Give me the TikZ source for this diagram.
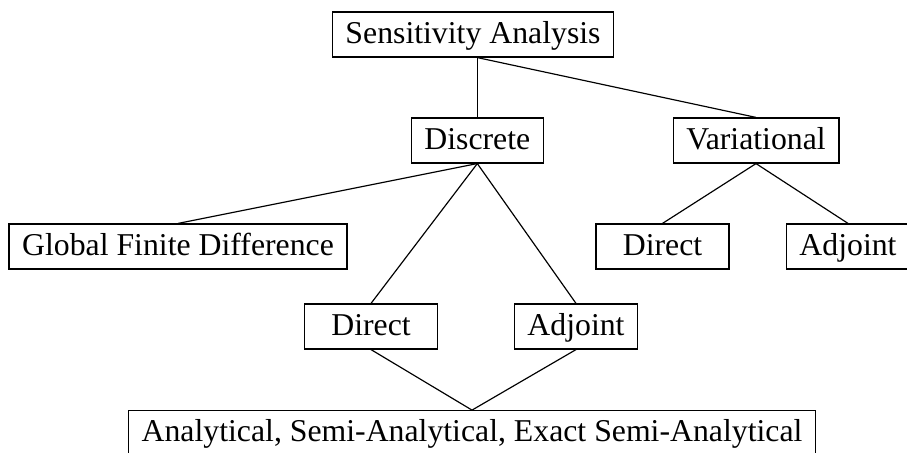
\documentclass[tikz,border=0pt]{standalone}
\usepackage{fontspec}
\setmainfont{Liberation Serif}
\begin{document}
\begin{tikzpicture}[x=0.34pt,y=-0.34pt,
  box/.style={draw,rectangle,line width=0.4pt,inner xsep=4.5pt,inner ysep=3.15pt,
    text height=7.4pt,text depth=1.6pt,font=\fontsize{10.8}{13}\selectfont},
  dirbox/.style={box,minimum width=45.2pt},
  conn/.style={draw,line width=0.4pt}]
\clip (0,0) rectangle (907,453);
\useasboundingbox (0,0) rectangle (907,453);
\node[box] (sa) at (473,34.5) {Sensitivity Analysis};
\node[box] (disc) at (477.3,140.5) {Discrete};
\node[box] (var) at (756,140.5) {Variational};
\node[box] (gfd) at (178,246.5) {Global Finite Difference};
\node[dirbox] (vdir) at (662.5,246.5) {Direct};
\node[box] (vadj) at (848,246.5) {Adjoint};
\node[dirbox] (ddir) at (371,326.5) {Direct};
\node[box] (dadj) at (576,326.5) {Adjoint};
\node[box] (bot) at (472,433.2) {Analytical, Semi-Analytical, Exact Semi-Analytical};
\coordinate (root) at (disc.north |- sa.south);
\path[conn] (root) -- (disc.north);
\path[conn] (root) -- (var.north);
\path[conn] (disc.south) -- (gfd.north);
\path[conn] (disc.south) -- (ddir.north);
\path[conn] (disc.south) -- (dadj.north);
\path[conn] (var.south) -- (vdir.north);
\path[conn] (var.south) -- (vadj.north);
\path[conn] (ddir.south) -- (bot.north);
\path[conn] (dadj.south) -- (bot.north);
\end{tikzpicture}
\end{document}
